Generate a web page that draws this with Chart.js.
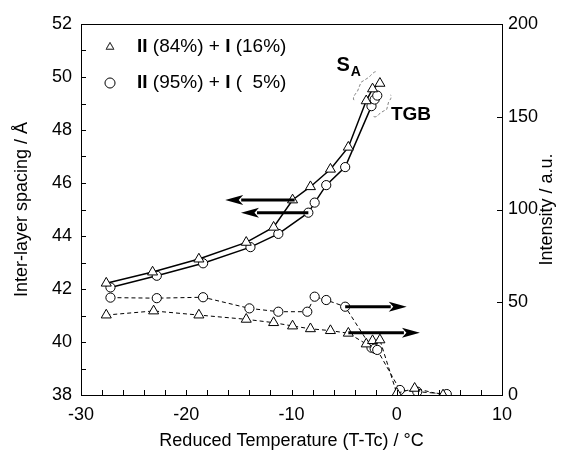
<!DOCTYPE html>
<html>
<head>
<meta charset="utf-8">
<script src="https://cdn.jsdelivr.net/npm/chart.js@4.4.0/dist/chart.umd.min.js"></script>
<style>
html,body{margin:0;padding:0;background:#fff}
</style>
</head>
<body>
<canvas id="chart" width="570" height="458"></canvas>
<script>
// DATA
// inter-layer spacing (left axis)
const tempTriSpacing  = [-27.6,-23.2,-18.8,-14.3,-11.7,-9.9,-8.2,-6.3,-4.6,-2.9,-2.3,-1.6];
const spacingTri      = [42.22,42.64,43.13,43.76,44.33,45.36,45.86,46.52,47.35,49.10,49.55,49.76];
const tempCircSpacing = [-27.2,-22.8,-18.4,-13.9,-11.25,-8.4,-7.8,-6.7,-4.9,-2.4,-2.1,-1.85];
const spacingCirc     = [42.06,42.50,42.97,43.58,44.08,44.88,45.26,45.92,46.60,48.90,49.15,49.30];
// intensity (right axis)
const tempTriInt  = [-27.6,-23.1,-18.8,-14.3,-11.7,-9.9,-8.2,-6.3,-4.6,-2.9,-2.3,-1.6,0.0,1.7,4.4];
const intensTri   = [43.1,45.3,43.1,40.8,39.0,37.2,35.7,34.7,33.3,27.5,29.3,29.7,0.9,3.6,0.0];
const tempCircInt = [-27.2,-22.8,-18.4,-14.0,-11.25,-8.5,-7.8,-6.7,-4.9,-2.4,-2.1,-1.85,0.3,1.95,4.75];
const intensCirc  = [52.5,52.2,52.7,46.7,44.9,44.9,53.0,51.2,47.6,25.5,25.0,24.3,2.7,1.8,0.5];

const legendLabels = [
    [["II",true],[" (84%) + ",false],["I",true],[" (16%)",false]],
    [["II",true],[" (95%) + ",false],["I",true],[" (  5%)",false]]
];

// annotations (data coordinates)
const leftArrows  = [[-9.7,-16.3,45.36],[-8.4,-14.8,44.88]];   // x from, x to, spacing
const rightArrows = [[-4.9,0.95,47.6],[-4.6,2.2,33.6]];        // x from, x to, intensity
const brackets    = [[-4.28,49.2,-2.07,50.26],[-1.97,48.44,-0.38,49.26]];

const FONT = "'Liberation Sans', Arial, sans-serif";

function pts(xs, ys){
    return xs.map((x,i)=>({x:x, y:ys[i]}));
}

function drawRich(ctx, parts, x, y, size){
    parts.forEach(p=>{
        ctx.font = (p[1] ? "bold " : "") + size + "px " + FONT;
        ctx.fillText(p[0], x, y);
        x += ctx.measureText(p[0]).width;
    });
}

function arrow(ctx, x1, x2, y){
    const dir = x2 > x1 ? 1 : -1;
    const headLen = 18, headW = 5;
    ctx.beginPath();
    ctx.moveTo(x1, y);
    ctx.lineTo(x2 - dir*headLen + dir*2, y);
    ctx.lineWidth = 3;
    ctx.stroke();
    ctx.beginPath();
    ctx.moveTo(x2, y);
    ctx.lineTo(x2 - dir*headLen, y - headW);
    ctx.lineTo(x2 - dir*headLen*0.75, y);
    ctx.lineTo(x2 - dir*headLen, y + headW);
    ctx.closePath();
    ctx.fill();
}

// extra drawing: frame, inward ticks, arrows, labels, legend
const extras = {
    id: "extras",
    afterDraw(chart){
        const ctx = chart.ctx;
        const {left, right, top, bottom} = chart.chartArea;
        const sx = chart.scales.x, sy = chart.scales.y, sy2 = chart.scales.y2;
        ctx.save();
        ctx.strokeStyle = "#000";
        ctx.fillStyle = "#000";
        ctx.lineWidth = 1;

        // top frame line
        ctx.beginPath();
        ctx.moveTo(left, top + 0.5);
        ctx.lineTo(right, top + 0.5);
        ctx.stroke();

        // inward ticks
        ctx.beginPath();
        sx.ticks.forEach(t=>{
            const px = Math.round(sx.getPixelForValue(t.value)) + 0.5;
            ctx.moveTo(px, bottom); ctx.lineTo(px, bottom - 5);
        });
        sy.ticks.forEach(t=>{
            const py = Math.round(sy.getPixelForValue(t.value)) + 0.5;
            ctx.moveTo(left, py); ctx.lineTo(left + 5, py);
        });
        sy2.ticks.forEach(t=>{
            const py = Math.round(sy2.getPixelForValue(t.value)) + 0.5;
            ctx.moveTo(right, py); ctx.lineTo(right - 5, py);
        });
        ctx.stroke();

        // right axis title, reading bottom to top
        ctx.save();
        ctx.translate(547, (top + bottom) / 2);
        ctx.rotate(-Math.PI / 2);
        ctx.textAlign = "center";
        ctx.textBaseline = "middle";
        ctx.font = "18px " + FONT;
        ctx.fillText("Intensity / a.u.", 0, 0);
        ctx.restore();

        // arrows
        leftArrows.forEach(a=>{
            arrow(ctx, sx.getPixelForValue(a[0]), sx.getPixelForValue(a[1]), sy.getPixelForValue(a[2]));
        });
        rightArrows.forEach(a=>{
            arrow(ctx, sx.getPixelForValue(a[0]), sx.getPixelForValue(a[1]), sy2.getPixelForValue(a[2]));
        });

        // phase brackets
        ctx.strokeStyle = "#666";
        ctx.lineWidth = 0.8;
        ctx.setLineDash([3,2]);
        brackets.forEach((b,i)=>{
            const x1 = sx.getPixelForValue(b[0]), y1 = sy.getPixelForValue(b[1]);
            const x2 = sx.getPixelForValue(b[2]), y2 = sy.getPixelForValue(b[3]);
            const mx = (x1+x2)/2, my = (y1+y2)/2;
            const len = Math.hypot(x2-x1, y2-y1);
            let nx = (y2-y1)/len, ny = -(x2-x1)/len;
            if (i === 0){ nx = -nx; ny = -ny; }
            const d = 3;
            ctx.beginPath();
            ctx.moveTo(x1 + nx*d, y1 + ny*d);
            ctx.quadraticCurveTo(x1, y1, (x1+mx)/2, (y1+my)/2);
            ctx.lineTo(mx - nx*d, my - ny*d);
            ctx.lineTo((x2+mx)/2, (y2+my)/2);
            ctx.quadraticCurveTo(x2, y2, x2 + nx*d, y2 + ny*d);
            ctx.stroke();
        });
        ctx.setLineDash([]);

        // phase labels
        ctx.fillStyle = "#000";
        ctx.textBaseline = "middle";
        ctx.textAlign = "center";
        ctx.font = "bold 20px " + FONT;
        ctx.fillText("S", sx.getPixelForValue(-5.1), sy.getPixelForValue(50.45));
        ctx.font = "bold 14px " + FONT;
        ctx.fillText("A", sx.getPixelForValue(-3.9), sy.getPixelForValue(50.2));
        ctx.textAlign = "left";
        ctx.font = "bold 19px " + FONT;
        ctx.fillText("TGB", sx.getPixelForValue(-0.55), sy.getPixelForValue(48.57));

        // legend
        const lx = left + 29, tx = left + 56;
        const ly = [top + 23, top + 59];
        ctx.lineWidth = 0.8;
        ctx.strokeStyle = "#333";
        ctx.fillStyle = "#fff";
        Chart.helpers.drawPoint(ctx, {pointStyle:"triangle", radius:4.5, borderWidth:0.8}, lx, ly[0]);
        ctx.stroke();
        Chart.helpers.drawPoint(ctx, {pointStyle:"circle", radius:5, borderWidth:0.8}, lx, ly[1]);
        ctx.stroke();
        ctx.fillStyle = "#000";
        ctx.textAlign = "left";
        drawRich(ctx, legendLabels[0], tx, ly[0], 19);
        drawRich(ctx, legendLabels[1], tx, ly[1], 19);

        ctx.restore();
    }
};

const ctx = document.getElementById("chart");

new Chart(ctx, {
    type: "scatter",
    data: {
        datasets: [
            {
                data: pts(tempTriSpacing, spacingTri),
                yAxisID: "y",
                showLine: true,
                borderColor: "#000",
                borderWidth: 1.5,
                pointStyle: "triangle",
                pointRadius: 5.8,
                pointBorderWidth: 1,
                pointBackgroundColor: "#fff",
                pointBorderColor: "#000"
            },
            {
                data: pts(tempCircSpacing, spacingCirc),
                yAxisID: "y",
                showLine: true,
                borderColor: "#000",
                borderWidth: 1.5,
                pointStyle: "circle",
                pointRadius: 4.6,
                pointBorderWidth: 1,
                pointBackgroundColor: "#fff",
                pointBorderColor: "#000"
            },
            {
                data: pts(tempTriInt, intensTri),
                yAxisID: "y2",
                showLine: true,
                borderColor: "#000",
                borderWidth: 1,
                borderDash: [4,3],
                pointStyle: "triangle",
                pointRadius: 5.8,
                pointBorderWidth: 1,
                pointBackgroundColor: "#fff",
                pointBorderColor: "#000"
            },
            {
                data: pts(tempCircInt, intensCirc),
                yAxisID: "y2",
                showLine: true,
                borderColor: "#000",
                borderWidth: 1,
                borderDash: [4,3],
                pointStyle: "circle",
                pointRadius: 4.6,
                pointBorderWidth: 1,
                pointBackgroundColor: "#fff",
                pointBorderColor: "#000"
            }
        ]
    },
    options: {
        responsive: false,
        animation: false,
        devicePixelRatio: 1,
        layout: { padding: { top: 24, left: 0, right: 0, bottom: 0 } },
        plugins: {
            legend: { display: false },
            tooltip: { enabled: false }
        },
        scales: {
            x: {
                type: "linear",
                min: -30, max: 10,
                grid: { display: false, drawTicks: false },
                border: { display: true, color: "#000", width: 1 },
                ticks: {
                    stepSize: 2,
                    autoSkip: false,
                    maxRotation: 0,
                    padding: 9,
                    color: "#000",
                    font: { family: FONT, size: 18 },
                    callback: v => (v % 10 === 0 ? v : "")
                },
                title: {
                    display: true,
                    text: "Reduced Temperature (T-Tc) / °C",
                    color: "#000",
                    font: { family: FONT, size: 18 },
                    padding: { top: 0, bottom: 6 }
                },
                afterFit: s => { s.height = 63; }
            },
            y: {
                position: "left",
                min: 38, max: 52,
                grid: { display: false, drawTicks: false },
                border: { display: true, color: "#000", width: 1 },
                ticks: {
                    stepSize: 1,
                    autoSkip: false,
                    padding: 9,
                    color: "#000",
                    font: { family: FONT, size: 18 },
                    callback: v => (v % 2 === 0 ? v : "")
                },
                title: {
                    display: true,
                    text: "Inter-layer spacing / Å",
                    color: "#000",
                    font: { family: FONT, size: 18 },
                    padding: { top: 11, bottom: 0 }
                },
                afterFit: s => { s.width = 81; }
            },
            y2: {
                position: "right",
                min: 0, max: 200,
                grid: { display: false, drawTicks: false },
                border: { display: true, color: "#000", width: 1 },
                ticks: {
                    stepSize: 50,
                    autoSkip: false,
                    padding: 6,
                    color: "#000",
                    font: { family: FONT, size: 18 }
                },
                afterFit: s => { s.width = 68; }
            }
        }
    },
    plugins: [extras]
});
</script>
</body>
</html>
